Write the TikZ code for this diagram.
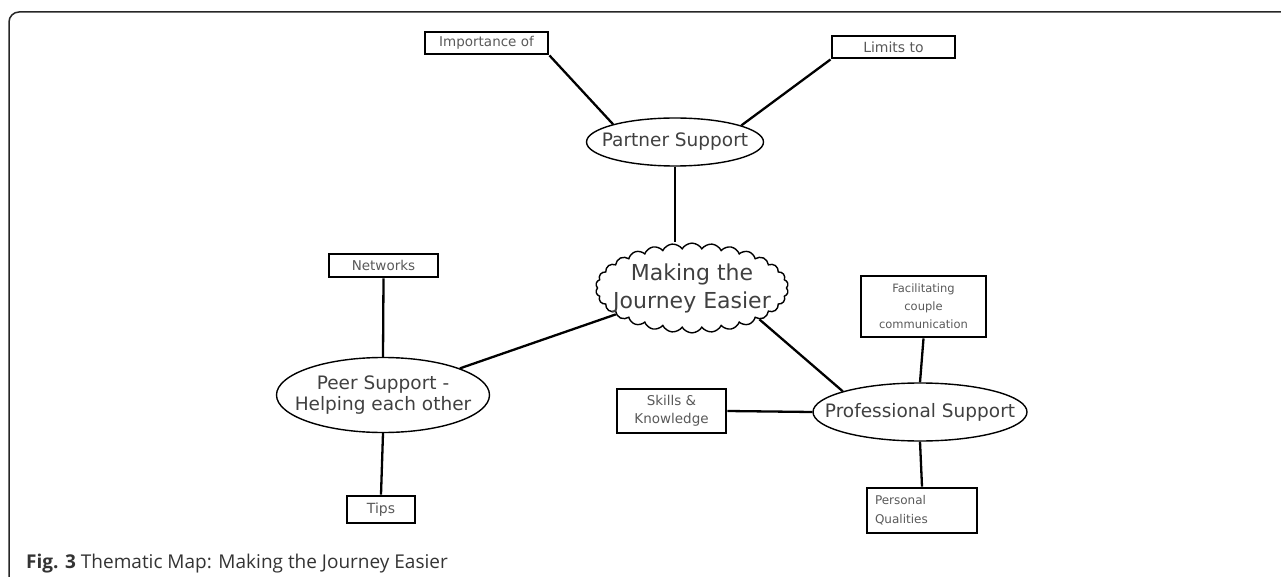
\documentclass[tikz,border=0pt]{standalone}
\usepackage{fontspec}
\setmainfont{DejaVu Sans}
\newfontfamily\captionfont{Open Sans}
\usetikzlibrary{shapes.symbols,shapes.geometric}

\begin{document}
\begin{tikzpicture}[x=1pt,y=-1pt,
        subtheme/.style={draw, line width=2.9pt, inner sep=0pt, align=center,
            font=\fontsize{13.5}{18}\selectfont, text=black!65},
        theme/.style={ellipse, draw, line width=1.4pt, inner xsep=-20pt, inner ysep=0pt, align=center,
            font=\fontsize{18.5}{21.5}\selectfont, text=black!75},
        link/.style={line width=2.3pt}]
        \useasboundingbox (0,0) rectangle (1281,577);
        \draw[line width=1.5pt, rounded corners=10pt, black!85] (1290,12) -- (9,12) -- (9,590);

        % central theme
        \node [cloud, cloud puffs=30, cloud puff arc=120, aspect=2.4, draw, line width=1.4pt,
            minimum width=190pt, minimum height=80pt, inner sep=-12pt, align=center,
            font=\fontsize{22}{28}\selectfont, text=black!75]
            (journey) at (692,288) {Making the\\Journey Easier};

        % themes
        \node [theme, minimum width=177pt, minimum height=48pt] (partner) at (675,142) {Partner Support};
        \node [theme, minimum width=213pt, minimum height=75pt] (peer) at (383,395) {Peer Support -\\Helping each other};
        \node [theme, minimum width=214pt, minimum height=58pt] (professional) at (920,412) {Professional Support};

        % subthemes
        \node [subtheme, minimum width=123pt, minimum height=22pt] (importance) at (486.5,43) {Importance of};
        \node [subtheme, minimum width=123pt, minimum height=22pt, font=\fontsize{14}{18}\selectfont] (limits) at (893.5,47) {Limits to};
        \node [subtheme, minimum width=109pt, minimum height=23pt] (networks) at (383.5,265.5) {Networks};
        \node [subtheme, minimum width=68pt, minimum height=27pt, font=\fontsize{14}{18}\selectfont] (tips) at (381,509.5) {Tips};
        \node [subtheme, minimum width=125pt, minimum height=61pt, font=\fontsize{11.5}{18}\selectfont] (facilitating) at (923.5,306.5) {Facilitating\\couple\\communication};
        \node [subtheme, minimum width=109pt, minimum height=44pt] (skills) at (671.5,411) {Skills \&\\Knowledge};
        \node [subtheme, minimum height=45pt, text width=94pt, inner xsep=8pt, align=left,
            font=\fontsize{12}{19}\selectfont] (personal) at (922,510.5) {Personal\\Qualities};

        % links
        \draw[link] (importance.south east) -- (partner.164);
        \draw[link] (limits.south west) -- (partner.14);
        \draw[link] (partner.south) -- (partner.south |- journey.north);
        \draw[link] (peer) -- (journey);
        \draw[link] (journey.-25) -- (professional.165);
        \draw[link] (networks.south) -- (peer.north);
        \draw[link] (peer.south) -- (tips.north);
        \draw[link] (facilitating.south) -- (professional.north);
        \draw[link] (professional.south) -- (personal.north);
        \draw[link] (skills.east) -- (professional.west);

        \node [anchor=base west, inner sep=0pt, text=black!80,
            font=\captionfont\fontsize{19}{22}\selectfont] (caption) at (26,568)
            {\textbf{Fig. 3} Thematic Map: Making the Journey Easier};
    \end{tikzpicture}
\end{document}
